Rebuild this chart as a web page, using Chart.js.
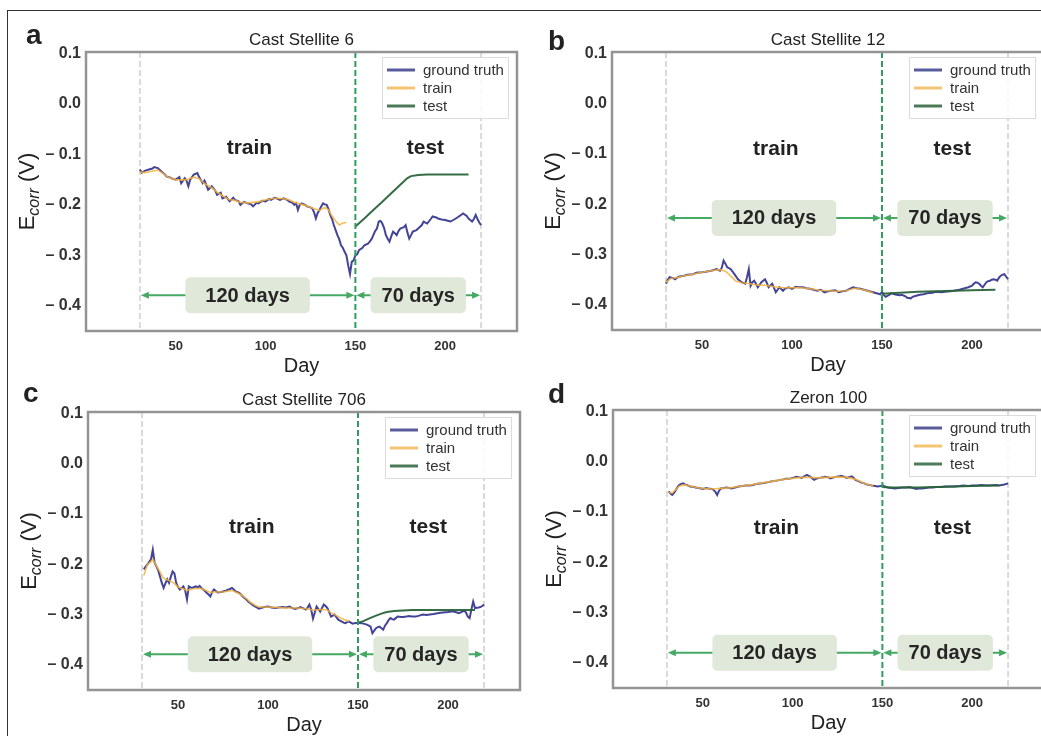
<!DOCTYPE html>
<html><head><meta charset="utf-8">
<script src="https://cdn.jsdelivr.net/npm/chart.js@4.4.1/dist/chart.umd.min.js"></script>
<style>
html,body{margin:0;padding:0;background:#fff;}
#wrap{position:relative;width:1041px;height:736px;overflow:hidden;background:#fff;}
#wrap canvas{position:absolute;left:0;top:0;}
#frame{position:absolute;left:7px;top:10px;width:2000px;height:2000px;border-top:1px solid #333;border-left:1px solid #333;}
</style></head>
<body><div id="wrap"><div id="frame"></div>
<canvas id="c0" width="1050" height="740"></canvas>
<canvas id="c1" width="1050" height="740"></canvas>
<canvas id="c2" width="1050" height="740"></canvas>
<canvas id="c3" width="1050" height="740"></canvas>
</div>
<script>
// ---------- data ----------
const xTicks = [50, 100, 150, 200];
const yTicks = [0.1, 0.0, -0.1, -0.2, -0.3, -0.4];
const yTickLabels = ['0.1', '0.0', '\u2013 0.1', '\u2013 0.2', '\u2013 0.3', '\u2013 0.4'];
const seriesNames = ['ground truth', 'train', 'test'];
const panelTitles = ['Cast Stellite 6', 'Cast Stellite 12', 'Cast Stellite 706', 'Zeron 100'];
const panelLetters = ['a', 'b', 'c', 'd'];
const regionLabels = ['train', 'test'];
const periodLabels = ['120 days', '70 days'];
const splitDays = [30, 150, 220];
const regionLabelDays = [91, 189];
const periodLabelDays = [90, 185];
const regionLabelY = [-0.088, -0.091, -0.126, -0.132];
const periodArrowY = [-0.379, -0.227, -0.379, -0.38];

// panel a : Cast Stellite 6  [day, Ecorr]
const aTruth = [[30,-0.13],[31,-0.136],[33,-0.132],[35,-0.13],[37,-0.128],[38,-0.125],[40,-0.127],[42,-0.134],[44,-0.14],[45,-0.144],[47,-0.146],[48,-0.148],[50,-0.15],[52,-0.145],[53,-0.157],[55,-0.147],[56,-0.152],[57,-0.163],[58,-0.15],[60,-0.14],[62,-0.137],[63,-0.145],[65,-0.157],[66,-0.152],[68,-0.17],[70,-0.163],[72,-0.172],[73,-0.18],[75,-0.176],[76,-0.187],[78,-0.184],[80,-0.193],[82,-0.186],[83,-0.19],[85,-0.193],[86,-0.2],[88,-0.194],[90,-0.197],[92,-0.199],[93,-0.203],[95,-0.196],[96,-0.197],[98,-0.192],[100,-0.193],[102,-0.188],[103,-0.19],[105,-0.186],[106,-0.187],[108,-0.19],[110,-0.187],[112,-0.19],[113,-0.193],[115,-0.196],[116,-0.2],[117,-0.197],[118,-0.21],[119,-0.2],[120,-0.197],[122,-0.2],[123,-0.203],[125,-0.205],[126,-0.207],[127,-0.215],[128,-0.227],[129,-0.216],[130,-0.21],[131,-0.203],[132,-0.197],[133,-0.199],[134,-0.2],[135,-0.208],[136,-0.22],[137,-0.228],[138,-0.24],[139,-0.25],[140,-0.26],[141,-0.268],[142,-0.28],[143,-0.285],[144,-0.293],[145,-0.3],[146,-0.32],[147,-0.337],[148,-0.313],[149,-0.31],[150,-0.3],[151,-0.298],[152,-0.29],[154,-0.285],[155,-0.28],[157,-0.277],[158,-0.273],[159,-0.268],[160,-0.26],[161,-0.252],[162,-0.247],[163,-0.233],[164,-0.232],[165,-0.237],[166,-0.246],[167,-0.26],[168,-0.267],[169,-0.273],[170,-0.262],[171,-0.253],[172,-0.256],[173,-0.26],[174,-0.252],[175,-0.247],[177,-0.244],[178,-0.24],[179,-0.255],[180,-0.267],[181,-0.26],[182,-0.253],[184,-0.25],[185,-0.247],[187,-0.24],[188,-0.233],[189,-0.235],[190,-0.237],[192,-0.228],[193,-0.223],[195,-0.225],[196,-0.227],[198,-0.229],[200,-0.23],[202,-0.232],[203,-0.233],[205,-0.229],[206,-0.227],[208,-0.222],[210,-0.217],[212,-0.222],[213,-0.227],[214,-0.23],[215,-0.233],[216,-0.228],[217,-0.22],[218,-0.228],[219,-0.235],[220,-0.24]];
const aTrain = [[30,-0.135],[33,-0.136],[36,-0.134],[40,-0.131],[43,-0.138],[46,-0.146],[50,-0.15],[53,-0.151],[56,-0.15],[60,-0.145],[63,-0.148],[66,-0.158],[70,-0.166],[73,-0.175],[76,-0.182],[80,-0.19],[83,-0.191],[86,-0.195],[90,-0.196],[93,-0.195],[96,-0.194],[100,-0.19],[103,-0.188],[106,-0.187],[110,-0.188],[113,-0.19],[116,-0.195],[120,-0.199],[123,-0.202],[126,-0.206],[130,-0.211],[133,-0.205],[135,-0.21],[137,-0.222],[139,-0.232],[141,-0.24],[143,-0.236],[145,-0.235]];
const aTest = [[150,-0.243],[155,-0.227],[160,-0.21],[165,-0.194],[170,-0.177],[175,-0.16],[179,-0.147],[181,-0.143],[185,-0.141],[190,-0.14],[200,-0.14],[213,-0.14]];

// panel b : Cast Stellite 12
const bTruth = [[30,-0.358],[31,-0.35],[32,-0.345],[34,-0.347],[35,-0.349],[37,-0.344],[40,-0.342],[42,-0.34],[45,-0.339],[47,-0.336],[50,-0.335],[52,-0.334],[55,-0.332],[57,-0.33],[58,-0.329],[60,-0.332],[61,-0.326],[62,-0.312],[63,-0.318],[64,-0.325],[66,-0.329],[68,-0.339],[70,-0.349],[72,-0.355],[74,-0.358],[75,-0.345],[76,-0.329],[77,-0.362],[78,-0.355],[79,-0.352],[80,-0.358],[81,-0.365],[82,-0.36],[83,-0.355],[85,-0.349],[86,-0.356],[87,-0.365],[89,-0.358],[90,-0.366],[91,-0.375],[92,-0.37],[93,-0.365],[95,-0.372],[96,-0.368],[98,-0.365],[100,-0.368],[102,-0.364],[103,-0.365],[106,-0.365],[108,-0.367],[110,-0.368],[112,-0.37],[114,-0.372],[116,-0.37],[118,-0.375],[120,-0.373],[122,-0.372],[124,-0.371],[126,-0.375],[128,-0.373],[130,-0.372],[132,-0.368],[134,-0.365],[136,-0.367],[138,-0.368],[140,-0.37],[142,-0.372],[144,-0.374],[146,-0.376],[148,-0.378],[149,-0.379],[150,-0.374],[151,-0.38],[152,-0.384],[154,-0.38],[155,-0.377],[157,-0.379],[158,-0.38],[160,-0.381],[161,-0.38],[163,-0.383],[164,-0.386],[166,-0.387],[167,-0.384],[168,-0.383],[170,-0.381],[171,-0.38],[173,-0.379],[175,-0.377],[178,-0.376],[180,-0.374],[183,-0.375],[185,-0.374],[188,-0.373],[190,-0.372],[193,-0.37],[195,-0.368],[197,-0.366],[198,-0.365],[200,-0.362],[201,-0.358],[202,-0.355],[203,-0.356],[204,-0.358],[205,-0.362],[206,-0.365],[207,-0.36],[208,-0.355],[209,-0.353],[210,-0.352],[211,-0.35],[212,-0.349],[213,-0.35],[214,-0.352],[215,-0.346],[216,-0.342],[217,-0.34],[218,-0.339],[219,-0.344],[220,-0.349]];
const bTrain = [[30,-0.355],[33,-0.347],[36,-0.346],[40,-0.342],[45,-0.339],[50,-0.335],[55,-0.332],[60,-0.33],[63,-0.333],[66,-0.343],[69,-0.353],[72,-0.356],[75,-0.357],[78,-0.359],[81,-0.361],[85,-0.361],[90,-0.364],[95,-0.366],[100,-0.366],[105,-0.366],[110,-0.368],[115,-0.371],[120,-0.372],[125,-0.373],[130,-0.372],[135,-0.367],[140,-0.37],[145,-0.376]];
const bTest = [[150,-0.378],[155,-0.377],[160,-0.376],[165,-0.375],[170,-0.374],[180,-0.373],[190,-0.372],[200,-0.371],[213,-0.37]];

// panel c : Cast Stellite 706
const cTruth = [[31,-0.21],[32,-0.205],[33,-0.2],[34,-0.195],[35,-0.19],[36,-0.171],[37,-0.197],[38,-0.204],[39,-0.212],[40,-0.224],[41,-0.237],[42,-0.247],[43,-0.238],[44,-0.23],[45,-0.237],[46,-0.225],[47,-0.214],[48,-0.218],[49,-0.237],[50,-0.245],[51,-0.25],[52,-0.247],[53,-0.244],[54,-0.252],[55,-0.27],[56,-0.244],[57,-0.246],[58,-0.247],[59,-0.245],[60,-0.244],[61,-0.246],[62,-0.243],[63,-0.247],[64,-0.25],[65,-0.253],[66,-0.257],[67,-0.26],[68,-0.264],[69,-0.255],[70,-0.25],[71,-0.253],[72,-0.256],[74,-0.255],[75,-0.254],[77,-0.252],[78,-0.25],[79,-0.249],[80,-0.247],[81,-0.25],[82,-0.254],[84,-0.257],[85,-0.26],[86,-0.264],[88,-0.27],[89,-0.274],[90,-0.277],[92,-0.282],[93,-0.284],[95,-0.288],[96,-0.287],[98,-0.285],[100,-0.284],[102,-0.286],[104,-0.287],[106,-0.286],[108,-0.285],[110,-0.286],[112,-0.284],[113,-0.286],[115,-0.289],[117,-0.287],[118,-0.285],[120,-0.288],[121,-0.29],[122,-0.286],[123,-0.28],[124,-0.29],[125,-0.308],[126,-0.296],[127,-0.284],[128,-0.289],[129,-0.294],[130,-0.287],[131,-0.28],[132,-0.283],[133,-0.287],[134,-0.295],[135,-0.304],[136,-0.302],[137,-0.3],[138,-0.305],[139,-0.31],[140,-0.312],[141,-0.314],[142,-0.316],[143,-0.317],[144,-0.315],[145,-0.314],[146,-0.316],[147,-0.318],[148,-0.317],[150,-0.316],[152,-0.317],[154,-0.319],[155,-0.32],[156,-0.322],[157,-0.324],[158,-0.337],[159,-0.332],[160,-0.327],[161,-0.325],[162,-0.324],[163,-0.327],[164,-0.33],[165,-0.322],[166,-0.317],[167,-0.311],[168,-0.307],[169,-0.309],[170,-0.31],[171,-0.307],[172,-0.304],[174,-0.305],[175,-0.305],[177,-0.304],[178,-0.303],[180,-0.304],[182,-0.304],[184,-0.302],[186,-0.3],[188,-0.301],[190,-0.3],[192,-0.299],[195,-0.297],[197,-0.296],[200,-0.295],[202,-0.294],[203,-0.294],[205,-0.296],[206,-0.297],[208,-0.294],[209,-0.292],[210,-0.296],[211,-0.304],[212,-0.307],[213,-0.29],[214,-0.274],[215,-0.287],[217,-0.286],[218,-0.285],[219,-0.283],[220,-0.28]];
const cTrain = [[31,-0.222],[33,-0.2],[35,-0.195],[36,-0.19],[38,-0.203],[40,-0.215],[42,-0.228],[45,-0.232],[48,-0.238],[50,-0.245],[53,-0.249],[55,-0.252],[58,-0.249],[60,-0.248],[63,-0.248],[65,-0.251],[68,-0.256],[70,-0.255],[75,-0.255],[80,-0.252],[85,-0.26],[88,-0.268],[90,-0.275],[93,-0.282],[95,-0.285],[100,-0.285],[105,-0.286],[110,-0.287],[115,-0.287],[120,-0.288],[125,-0.291],[130,-0.29],[133,-0.291],[135,-0.296],[138,-0.302],[140,-0.306],[143,-0.311],[145,-0.313]];
const cTest = [[150,-0.316],[153,-0.313],[156,-0.308],[160,-0.302],[163,-0.298],[166,-0.295],[170,-0.293],[175,-0.292],[180,-0.291],[190,-0.291],[200,-0.291],[215,-0.291]];

// panel d : Zeron 100
const dTruth = [[31,-0.059],[32,-0.063],[33,-0.066],[34,-0.062],[35,-0.056],[36,-0.05],[37,-0.046],[38,-0.044],[39,-0.043],[40,-0.045],[41,-0.046],[43,-0.049],[45,-0.05],[46,-0.051],[48,-0.052],[50,-0.054],[52,-0.052],[53,-0.053],[55,-0.054],[56,-0.056],[57,-0.06],[58,-0.066],[59,-0.058],[60,-0.053],[62,-0.052],[63,-0.051],[65,-0.052],[66,-0.053],[68,-0.051],[70,-0.049],[72,-0.048],[74,-0.047],[76,-0.047],[78,-0.046],[80,-0.044],[82,-0.043],[84,-0.042],[86,-0.041],[88,-0.039],[90,-0.038],[92,-0.037],[93,-0.036],[95,-0.035],[96,-0.034],[98,-0.034],[99,-0.033],[101,-0.031],[102,-0.03],[104,-0.031],[105,-0.032],[107,-0.028],[108,-0.026],[109,-0.028],[110,-0.03],[111,-0.033],[112,-0.036],[113,-0.034],[115,-0.032],[117,-0.031],[118,-0.03],[120,-0.031],[121,-0.033],[123,-0.031],[124,-0.03],[126,-0.029],[127,-0.028],[129,-0.03],[130,-0.032],[132,-0.03],[133,-0.029],[134,-0.032],[135,-0.036],[137,-0.039],[138,-0.041],[140,-0.043],[141,-0.045],[143,-0.046],[144,-0.047],[146,-0.048],[147,-0.049],[149,-0.048],[150,-0.047],[152,-0.05],[153,-0.051],[155,-0.052],[157,-0.053],[159,-0.052],[161,-0.051],[163,-0.051],[165,-0.05],[167,-0.052],[169,-0.054],[170,-0.053],[172,-0.053],[174,-0.052],[176,-0.051],[178,-0.051],[180,-0.05],[183,-0.05],[185,-0.049],[188,-0.049],[190,-0.049],[193,-0.048],[195,-0.047],[198,-0.048],[200,-0.047],[203,-0.047],[205,-0.046],[208,-0.047],[210,-0.047],[213,-0.046],[215,-0.047],[218,-0.045],[220,-0.043]];
const dTrain = [[31,-0.061],[33,-0.062],[35,-0.055],[37,-0.048],[40,-0.046],[45,-0.05],[50,-0.053],[55,-0.054],[60,-0.053],[65,-0.052],[70,-0.049],[75,-0.047],[80,-0.044],[85,-0.041],[90,-0.038],[95,-0.035],[100,-0.033],[105,-0.031],[110,-0.031],[115,-0.032],[120,-0.031],[125,-0.03],[130,-0.031],[135,-0.035],[140,-0.043],[145,-0.048]];
const dTest = [[150,-0.05],[155,-0.051],[160,-0.051],[170,-0.051],[180,-0.05],[190,-0.049],[200,-0.048],[210,-0.047],[215,-0.047]];

const panelSeries = [[aTruth, aTrain, aTest], [bTruth, bTrain, bTest], [cTruth, cTrain, cTest], [dTruth, dTrain, dTest]];

// ---------- layout / style ----------
const FONT = "'Liberation Sans', Arial, Helvetica, sans-serif";
const layouts = [
  {plotL: 86,  plotT: 52,  plotR: 517,  plotB: 331, letterX: 26,  letterY: 44},
  {plotL: 612, plotT: 52,  plotR: 1044, plotB: 330, letterX: 548, letterY: 50},
  {plotL: 88,  plotT: 412, plotR: 520,  plotB: 690, letterX: 23,  letterY: 402},
  {plotL: 613, plotT: 410, plotR: 1044, plotB: 688, letterX: 548, letterY: 403}
];
const seriesColors = ['rgba(58,58,145,0.95)', 'rgba(245,178,60,0.85)', 'rgba(42,100,58,0.95)'];
const legendColors = ['#5a5b9c', '#f3c472', '#4c7a58'];
const seriesWidths = [2, 1.6, 2];
const CW = 1050, CH = 740, YAXW = 86, XAXH = 30;

function drawArrow(ctx, x1, x2, y, color) {
  ctx.save();
  ctx.strokeStyle = color; ctx.fillStyle = color; ctx.lineWidth = 2;
  ctx.beginPath(); ctx.moveTo(x1 + 5, y); ctx.lineTo(x2 - 5, y); ctx.stroke();
  [[x1, -1], [x2, 1]].forEach(([x, d]) => {
    ctx.beginPath(); ctx.moveTo(x, y); ctx.lineTo(x - d * 8, y - 3.5); ctx.lineTo(x - d * 8, y + 3.5); ctx.closePath(); ctx.fill();
  });
  ctx.restore();
}

const decor = {
  id: 'decor',
  beforeDatasetsDraw(chart, args, opts) {
    const i = opts.idx, ctx = chart.ctx, a = chart.chartArea;
    const xs = chart.scales.x, ys = chart.scales.y;
    ctx.save();
    ctx.strokeStyle = '#dadada'; ctx.lineWidth = 2; ctx.setLineDash([6, 3]);
    [splitDays[0], splitDays[2]].forEach(d => {
      const x = xs.getPixelForValue(d);
      ctx.beginPath(); ctx.moveTo(x, a.top); ctx.lineTo(x, a.bottom); ctx.stroke();
    });
    ctx.setLineDash([]);
    const ay = ys.getPixelForValue(periodArrowY[i]);
    drawArrow(ctx, xs.getPixelForValue(splitDays[0]) + 1, xs.getPixelForValue(splitDays[1]) - 1, ay, '#45a964');
    drawArrow(ctx, xs.getPixelForValue(splitDays[1]) + 1, xs.getPixelForValue(splitDays[2]) - 1, ay, '#45a964');
    ctx.font = 'bold 20px ' + FONT;
    ctx.textAlign = 'center'; ctx.textBaseline = 'middle';
    periodLabels.forEach((t, k) => {
      const cx = xs.getPixelForValue(periodLabelDays[k]);
      const w = ctx.measureText(t).width + (k === 0 ? 40 : 22);
      ctx.fillStyle = '#e0e9d9';
      ctx.beginPath(); ctx.roundRect(cx - w / 2, ay - 18, w, 36, 5); ctx.fill();
      ctx.fillStyle = '#262626';
      ctx.fillText(t, cx, ay + 1);
    });
    ctx.font = 'bold 21px ' + FONT;
    const ry = ys.getPixelForValue(regionLabelY[i]);
    regionLabels.forEach((t, k) => {
      ctx.fillStyle = '#222';
      ctx.fillText(t, xs.getPixelForValue(regionLabelDays[k]), ry);
    });
    ctx.restore();
  },
  afterDatasetsDraw(chart, args, opts) {
    const ctx = chart.ctx, a = chart.chartArea, xs = chart.scales.x;
    ctx.save();
    const x = xs.getPixelForValue(splitDays[1]);
    ctx.strokeStyle = '#2f9e5c'; ctx.lineWidth = 2; ctx.setLineDash([6, 3]);
    ctx.beginPath(); ctx.moveTo(x, a.top); ctx.lineTo(x, a.bottom); ctx.stroke();
    ctx.setLineDash([]);
    ctx.strokeStyle = '#949494'; ctx.lineWidth = 2.5;
    ctx.strokeRect(a.left, a.top, a.right - a.left, a.bottom - a.top);
    const bw = 126, bh = 61, bx = a.right - 9 - bw, by = a.top + 5;
    ctx.fillStyle = 'rgba(255,255,255,0.85)'; ctx.fillRect(bx, by, bw, bh);
    ctx.strokeStyle = '#dcdcdc'; ctx.lineWidth = 1; ctx.strokeRect(bx + 0.5, by + 0.5, bw, bh);
    ctx.font = '15px ' + FONT; ctx.textAlign = 'left'; ctx.textBaseline = 'middle';
    chart.data.datasets.forEach((ds, k) => {
      const yy = by + 13 + k * 18;
      ctx.strokeStyle = legendColors[k]; ctx.lineWidth = 3;
      ctx.beginPath(); ctx.moveTo(bx + 5, yy); ctx.lineTo(bx + 33, yy); ctx.stroke();
      ctx.fillStyle = '#333'; ctx.fillText(ds.label, bx + 41, yy + 1);
    });
    ctx.restore();
  },
  afterDraw(chart, args, opts) {
    const i = opts.idx, ctx = chart.ctx, a = chart.chartArea, L = layouts[i];
    ctx.save();
    ctx.fillStyle = '#222'; ctx.textAlign = 'center'; ctx.textBaseline = 'alphabetic';
    ctx.font = '17px ' + FONT;
    ctx.fillText(panelTitles[i], (a.left + a.right) / 2, a.top - 7);
    ctx.textAlign = 'left'; ctx.font = 'bold 28px ' + FONT;
    ctx.fillText(panelLetters[i], L.letterX, L.letterY);
    ctx.textAlign = 'center'; ctx.font = '20px ' + FONT; ctx.fillStyle = '#222';
    ctx.fillText('Day', (a.left + a.right) / 2, a.bottom + 41);
    ctx.translate(a.left - 52, (a.top + a.bottom) / 2);
    ctx.rotate(-Math.PI / 2);
    const p1 = 'E', p2 = 'corr', p3 = ' (V)';
    const f1 = '22px ' + FONT, f2 = 'italic 16px ' + FONT;
    ctx.font = f1; const w1 = ctx.measureText(p1).width, w3 = ctx.measureText(p3).width;
    ctx.font = f2; const w2 = ctx.measureText(p2).width;
    let sx = -(w1 + w2 + w3) / 2;
    ctx.textAlign = 'left';
    ctx.font = f1; ctx.fillText(p1, sx, 0); sx += w1;
    ctx.font = f2; ctx.fillText(p2, sx, 5); sx += w2;
    ctx.font = f1; ctx.fillText(p3, sx, 0);
    ctx.restore();
  }
};

panelSeries.forEach((ser, i) => {
  const L = layouts[i];
  new Chart(document.getElementById('c' + i), {
    type: 'line',
    data: {
      datasets: ser.map((pts, k) => ({
        label: seriesNames[k],
        data: pts.map(p => ({x: p[0], y: p[1]})),
        borderColor: seriesColors[k],
        borderWidth: seriesWidths[k],
        pointRadius: 0,
        tension: 0,
        fill: false,
        order: 3 - k
      }))
    },
    options: {
      responsive: false,
      animation: false,
      events: [],
      layout: {padding: {left: L.plotL - YAXW, top: L.plotT, right: CW - L.plotR, bottom: CH - L.plotB - XAXH}},
      plugins: {legend: {display: false}, tooltip: {enabled: false}, title: {display: false}, decor: {idx: i}},
      scales: {
        x: {
          type: 'linear', min: 0, max: 240,
          grid: {display: false, drawTicks: false},
          border: {display: false},
          ticks: {font: {family: FONT, size: 13, weight: 'bold'}, color: '#333', padding: 8, maxRotation: 0, autoSkip: false},
          afterBuildTicks: s => { s.ticks = xTicks.map(v => ({value: v})); },
          afterFit: s => { s.height = XAXH; }
        },
        y: {
          type: 'linear', min: -0.45, max: 0.103,
          grid: {display: false, drawTicks: false},
          border: {display: false},
          ticks: {font: {family: FONT, size: 16, weight: 'bold'}, color: '#333', padding: 5, autoSkip: false,
                  callback: (v, idx) => yTickLabels[idx]},
          afterBuildTicks: s => { s.ticks = yTicks.map(v => ({value: v})); },
          afterFit: s => { s.width = YAXW; }
        }
      }
    },
    plugins: [decor]
  });
});
</script>
</body></html>
